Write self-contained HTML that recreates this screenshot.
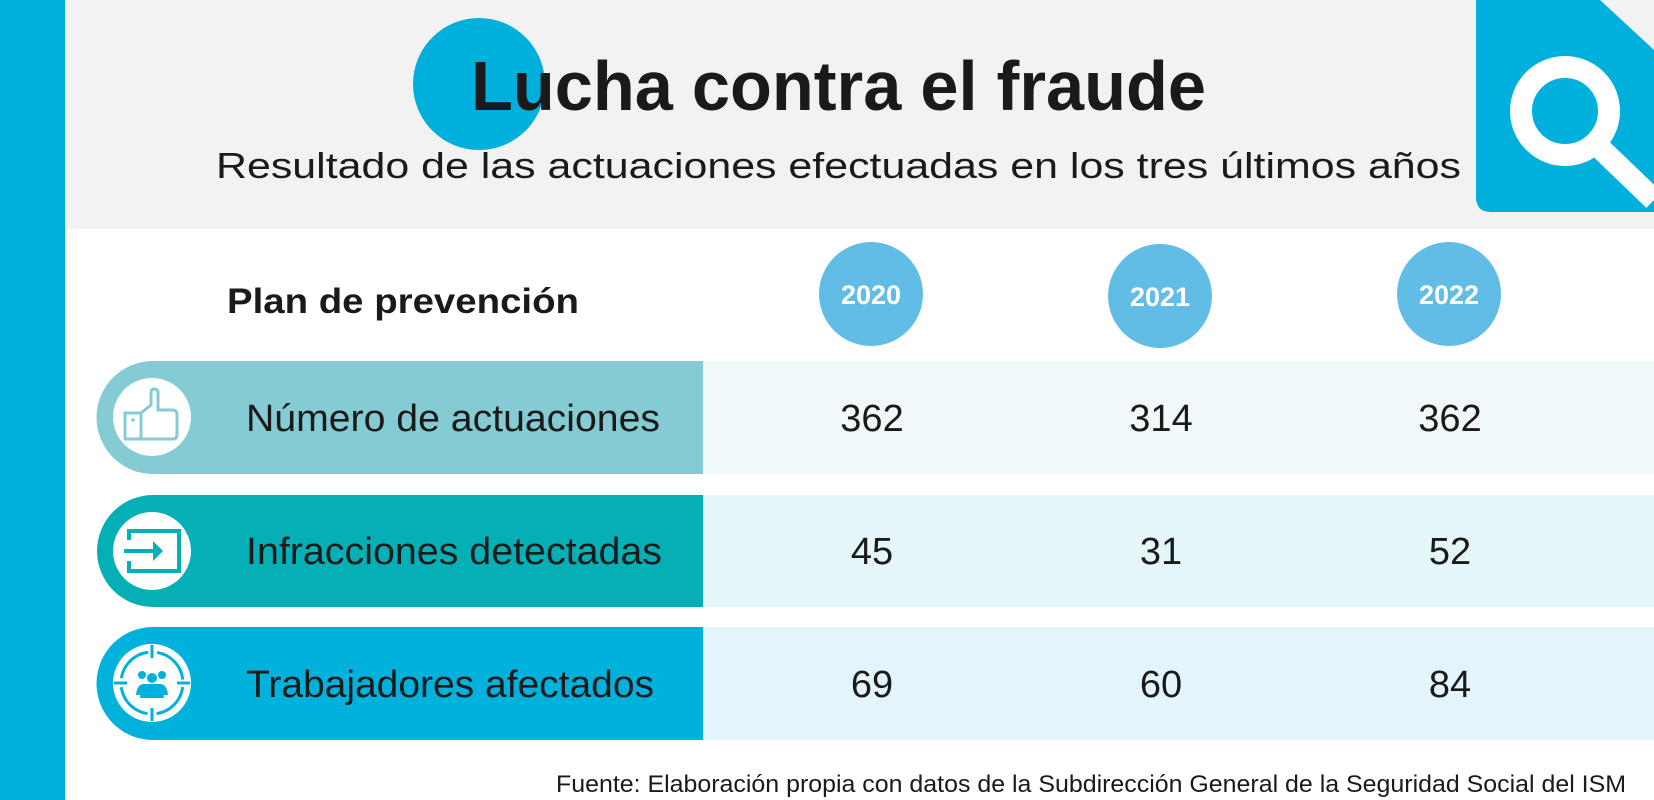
<!DOCTYPE html>
<html><head><meta charset="utf-8"><style>html,body{margin:0;padding:0;background:#fff}svg{display:block}</style></head>
<body>
<svg width="1654" height="800" viewBox="0 0 1654 800" xmlns="http://www.w3.org/2000/svg" font-family="'Liberation Sans', sans-serif">
<rect width="1654" height="800" fill="#fff"/>
<rect x="65" y="0" width="1589" height="229" fill="#f2f2f2"/>
<rect x="0" y="0" width="65" height="800" fill="#00b0dc"/>
<circle cx="479" cy="84" r="66" fill="#00b0dc"/>
<text x="471" y="110" font-size="70" font-weight="bold" fill="#1a1a1a" textLength="735" lengthAdjust="spacingAndGlyphs">Lucha contra el fraude</text>
<text x="216" y="178" font-size="36" fill="#1a1a1a" textLength="1245" lengthAdjust="spacingAndGlyphs">Resultado de las actuaciones efectuadas en los tres últimos años</text>
<!-- search icon -->
<path d="M1491 0 H1600 L1654 50 V212 H1491 Q1476 212 1476 197 V0 Z" fill="#00b0dc"/>
<circle cx="1565" cy="111" r="44" fill="none" stroke="#fff" stroke-width="22"/>
<line x1="1600" y1="148" x2="1654" y2="200" stroke="#fff" stroke-width="22"/>
<text x="227" y="313" font-size="35" font-weight="bold" fill="#1a1a1a" textLength="352" lengthAdjust="spacingAndGlyphs">Plan de prevención</text>
<g fill="#62bde6"><circle cx="871" cy="294" r="52"/><circle cx="1160" cy="296" r="52"/><circle cx="1449" cy="294" r="52"/></g>
<g font-size="27" font-weight="bold" fill="#fff" text-anchor="middle">
<text x="871" y="304">2020</text><text x="1160" y="306">2021</text><text x="1449" y="304">2022</text></g>
<!-- rows -->
<rect x="703" y="361" width="951" height="113" fill="#f0f8fa"/>
<rect x="703" y="495" width="951" height="112" fill="#e4f6f7"/>
<rect x="703" y="627" width="951" height="113" fill="#e3f5fa"/>
<path d="M153 361 H703 V474 H153 A56.5 56.5 0 0 1 153 361 Z" fill="#84cbd4"/>
<path d="M153 495 H703 V607 H153 A56 56 0 0 1 153 495 Z" fill="#04b0b5"/>
<path d="M153 627 H703 V740 H153 A56.5 56.5 0 0 1 153 627 Z" fill="#00b1dc"/>
<g fill="#fff"><circle cx="152" cy="417" r="39"/><circle cx="152" cy="551" r="39"/><circle cx="152" cy="683" r="39"/></g>
<!-- thumb icon -->
<g fill="none" stroke="#84cbd4" stroke-width="3">
<rect x="125" y="413" width="16" height="26"/>
<path d="M141 439 H173 Q177 439 177 434 V414 Q177 410 172 410 H158 V393 Q158 389 154 389 Q151 389 151 393 V405 L141 413"/>
</g>
<circle cx="133" cy="420" r="1.8" fill="#84cbd4"/>
<!-- enter icon -->
<g fill="none" stroke="#04b0b5" stroke-width="4">
<path d="M129 540 V531 H179 V571 H129 V561"/>
<line x1="124" y1="551" x2="155" y2="551"/>
</g>
<path d="M153 541 L163 551 L153 561 Z" fill="#04b0b5"/>
<!-- target people -->
<g fill="none" stroke="#00b1dc" stroke-width="3">
<circle cx="152" cy="683" r="31" stroke-dasharray="40 9" stroke-dashoffset="-4"/>
<line x1="152" y1="645" x2="152" y2="658"/><line x1="152" y1="708" x2="152" y2="721"/>
<line x1="114" y1="683" x2="127" y2="683"/><line x1="177" y1="683" x2="190" y2="683"/>
</g>
<g fill="#00b1dc">
<circle cx="142" cy="675" r="4"/><circle cx="162" cy="675" r="4"/><circle cx="152" cy="678" r="5"/>
<path d="M136 695 Q137 683 146 684 L158 684 Q167 683 168 695 Z"/>
<path d="M140 698 Q141 686 152 686 Q163 686 164 698 Z"/>
</g>
<g font-size="38" fill="#1a1a1a">
<text x="246" y="431" textLength="414" lengthAdjust="spacingAndGlyphs">Número de actuaciones</text>
<text x="246" y="564" textLength="416" lengthAdjust="spacingAndGlyphs">Infracciones detectadas</text>
<text x="246" y="697" textLength="408" lengthAdjust="spacingAndGlyphs">Trabajadores afectados</text>
</g>
<g font-size="38" fill="#1a1a1a" text-anchor="middle">
<text x="872" y="431">362</text><text x="1161" y="431">314</text><text x="1450" y="431">362</text>
<text x="872" y="564">45</text><text x="1161" y="564">31</text><text x="1450" y="564">52</text>
<text x="872" y="697">69</text><text x="1161" y="697">60</text><text x="1450" y="697">84</text>
</g>
<text x="556" y="792" font-size="24" fill="#1a1a1a" textLength="1070" lengthAdjust="spacingAndGlyphs">Fuente: Elaboración propia con datos de la Subdirección General de la Seguridad Social del ISM</text>
</svg>
</body></html>
